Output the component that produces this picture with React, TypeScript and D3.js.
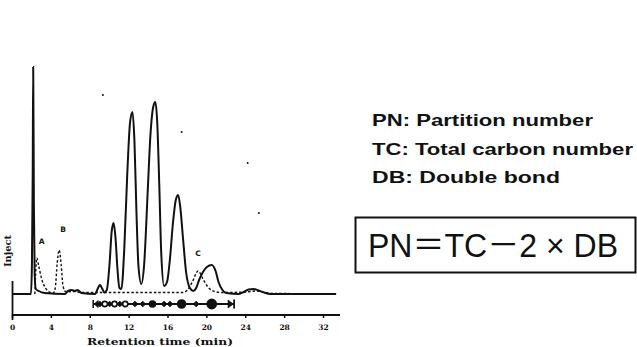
import * as d3 from 'd3'

// solid trace: [retention time (min), signal]
const solidTrace: [number, number][] = [
  [0, 0], [1.9, 0], [2.0, 30], [2.08, 120], [2.13, 227], [2.2, 90], [2.28, 20],
  [2.4, 5], [2.7, 3], [3.3, 1], [5.4, 0], [5.7, 3], [6.1, 4], [6.4, 3], [6.7, 4],
  [7.1, 1], [8.5, 0], [8.8, 6], [9.0, 9], [9.2, 6], [9.45, 1.5], [9.7, 4],
  [10.0, 32], [10.2, 62], [10.4, 71], [10.6, 56], [10.8, 25], [11.0, 6], [11.2, 5],
  [11.5, 45], [11.8, 118], [12.1, 172], [12.35, 182], [12.55, 152], [12.76, 80],
  [12.96, 28], [13.25, 10], [13.55, 30], [13.9, 100], [14.2, 160], [14.5, 188],
  [14.7, 192], [14.9, 170], [15.1, 110], [15.3, 42], [15.6, 8], [15.9, 12],
  [16.2, 35], [16.5, 70], [16.8, 94], [17.04, 99], [17.25, 88], [17.55, 55],
  [17.86, 22], [18.25, 6], [18.6, 3], [18.9, 6], [19.2, 14], [19.6, 22], [20.0, 27],
  [20.5, 29], [20.9, 23], [21.2, 12], [21.6, 4], [22.0, 1], [23.3, 0], [23.8, 2],
  [24.3, 4.5], [24.8, 5], [25.3, 3.5], [25.9, 1.5], [26.5, 0], [33.3, 0],
]

// dashed trace
const dashedTrace: [number, number][] = [
  [2.3, 0], [2.4, 24], [2.5, 36], [2.7, 28], [3.0, 15], [3.4, 6], [3.9, 1.5], [4.2, 1],
  [4.4, 6], [4.6, 31], [4.8, 44], [5.0, 30], [5.2, 8], [5.5, 2], [6.0, 2.5], [6.5, 2.5],
  [7.0, 1.5], [12, 1.5], [17.5, 1.5], [18.0, 4], [18.5, 12], [19.1, 23], [19.6, 15],
  [20.1, 7], [20.8, 2.5], [21.5, 1.5], [24.0, 2], [25.0, 3], [26.0, 1.5], [27.0, 0.5],
  [28.5, 0.5],
]

const peakLabels = [
  { label: 'A', t: 3.0, h: 50 },
  { label: 'B', t: 5.2, h: 62 },
  { label: 'C', t: 19.1, h: 38 },
]

// PN bracket row under the peaks
const bracketStart = 8.3
const bracketEnd = 22.8
const bracketCircles = [
  { t: 9.5, r: 2.6, open: true },
  { t: 10.5, r: 2.6, open: true },
  { t: 11.6, r: 2.6, open: true },
  { t: 14.4, r: 3, open: false },
  { t: 17.4, r: 4, open: false },
  { t: 20.5, r: 4.6, open: false },
]
const bracketMarks = [9.0, 10.0, 11.05, 12.6, 13.4, 15.6, 16.2, 18.9]

const xTicks = [0, 4, 8, 12, 16, 20, 24, 28, 32]

const specks: [number, number][] = [[9.3, 199], [24.2, 131], [25.35, 81], [17.4, 162]]

const legendLines = [
  'PN: Partition number',
  'TC: Total carbon number',
  'DB: Double bond',
]
const legendWidths = [221, 261, 188]
const formula = 'PN＝TC－2 × DB'

const x = d3.scaleLinear().domain([0, 32]).range([12.5, 323.5])
const y = d3.scaleLinear().domain([0, 230]).range([294, 64])

const line = d3
  .line<[number, number]>()
  .x(d => x(d[0]))
  .y(d => y(d[1]))
  .curve(d3.curveMonotoneX)

const axisY = 315
const rowY = 304
const ink = '#111'

export default function App() {
  return (
    <div style={{ position: 'absolute', left: 0, top: 0 }}>
      <svg width={637} height={347} viewBox="0 0 637 347" style={{ display: 'block', background: '#fff' }}>
        {/* inject marker and left frame */}
        <path d={`M 12.5 281 V 320`} stroke={ink} strokeWidth={1.8} />
        <text
          transform="translate(11,251) rotate(-90)"
          textAnchor="middle"
          fontFamily="DejaVu Serif"
          fontWeight="bold"
          fontSize={9}
          textLength={32}
          lengthAdjust="spacingAndGlyphs"
          fill={ink}
        >
          Inject
        </text>

        {/* traces */}
        <path d={line(dashedTrace) ?? ''} fill="none" stroke={ink} strokeWidth={1.4} strokeDasharray="2.5,2" />
        <path d={line(solidTrace) ?? ''} fill="none" stroke={ink} strokeWidth={2} />

        {peakLabels.map(p => (
          <text
            key={p.label}
            x={x(p.t)}
            y={y(p.h)}
            textAnchor="middle"
            fontFamily="DejaVu Sans"
            fontWeight="bold"
            fontSize={7.5}
            fill={ink}
          >
            {p.label}
          </text>
        ))}

        {/* PN bracket row */}
        <g stroke={ink} fill={ink}>
          <path d={`M ${x(bracketStart)} ${rowY} H ${x(bracketEnd)}`} strokeWidth={1.8} />
          <path d={`M ${x(bracketStart)} ${rowY - 4} V ${rowY + 4}`} strokeWidth={1.5} />
          <path
            d={`M ${x(bracketStart) + 1} ${rowY} l 4 -3.5 v 7 z`}
            strokeWidth={0.8}
          />
          <path d={`M ${x(bracketEnd)} ${rowY - 4.5} V ${rowY + 4.5}`} strokeWidth={1.8} />
          <path d={`M ${x(bracketEnd) - 1} ${rowY} l -5 -4 v 8 z`} strokeWidth={0.8} />
          {bracketMarks.map((t, i) => (
            <path
              key={i}
              d={`M ${x(t) - 2.8} ${rowY} L ${x(t)} ${rowY - 2.8} L ${x(t) + 2.8} ${rowY} L ${x(t)} ${rowY + 2.8} Z`}
              strokeWidth={0.9}
            />
          ))}
          {bracketCircles.map((c, i) => (
            <circle
              key={i}
              cx={x(c.t)}
              cy={rowY}
              r={c.r}
              fill={c.open ? '#fff' : ink}
              strokeWidth={1.6}
            />
          ))}
        </g>

        {/* x axis */}
        <path d={`M 12.5 ${axisY} H 340`} stroke={ink} strokeWidth={1.8} />
        {xTicks.map(t => (
          <g key={t}>
            <path d={`M ${x(t)} ${axisY} V ${axisY + 3}`} stroke={ink} strokeWidth={1.5} />
            <text
              x={x(t)}
              y={330}
              textAnchor="middle"
              fontFamily="DejaVu Serif"
              fontWeight="bold"
              fontSize={7.5}
              fill={ink}
            >
              {t}
            </text>
          </g>
        ))}
        <text
          x={160}
          y={345}
          textAnchor="middle"
          fontFamily="DejaVu Serif"
          fontWeight="bold"
          fontSize={9.5}
          textLength={146}
          lengthAdjust="spacingAndGlyphs"
          fill={ink}
        >
          Retention time (min)
        </text>

        {specks.map((s, i) => (
          <circle key={i} cx={x(s[0])} cy={y(s[1])} r={1} fill={ink} />
        ))}

        {/* legend text */}
        {legendLines.map((l, i) => (
          <text
            key={l}
            x={372}
            y={126 + i * 28.5}
            fontFamily="Liberation Sans, Arial, sans-serif"
            fontWeight="bold"
            fontSize={16.5}
            textLength={legendWidths[i]}
            lengthAdjust="spacingAndGlyphs"
            fill={ink}
          >
            {l}
          </text>
        ))}

        <rect x={355.5} y={217.5} width={280} height={55} fill="none" stroke={ink} strokeWidth={2} />
        <text
          x={368}
          y={257}
          fontFamily="Liberation Sans, Noto Sans CJK JP, sans-serif"
          fontSize={34}
          textLength={250}
          lengthAdjust="spacingAndGlyphs"
          fill={ink}
        >
          {formula}
        </text>
      </svg>
    </div>
  )
}
